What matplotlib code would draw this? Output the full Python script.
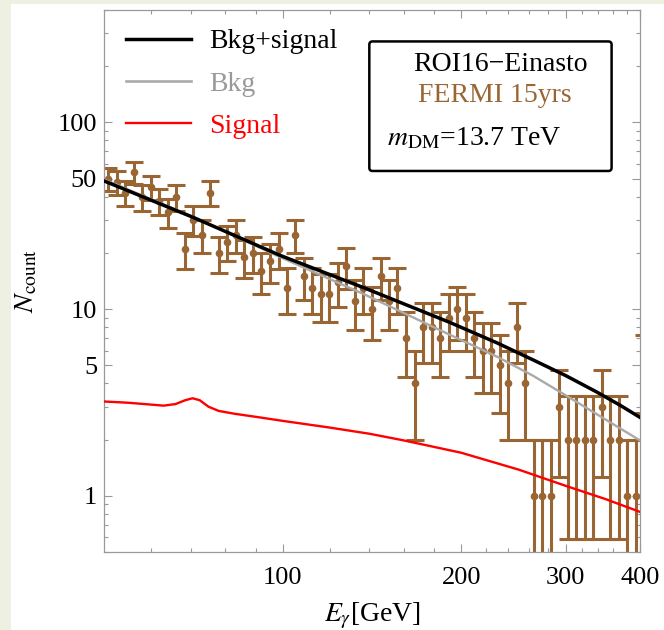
import numpy as np
import matplotlib
matplotlib.use("Agg")
import matplotlib.pyplot as plt
from matplotlib.patches import FancyBboxPatch, Rectangle
from matplotlib.lines import Line2D
from matplotlib.ticker import FixedLocator, NullFormatter, FixedFormatter

plt.rcParams['font.family'] = ['Liberation Serif', 'DejaVu Serif']
plt.rcParams['mathtext.fontset'] = 'stix'

# ---- data ----
energy = [50.8, 52.5, 54.3, 56.1, 58.0, 60.0, 62.0, 64.0, 66.2, 68.4,
          70.7, 73.1, 75.5, 78.1, 80.7, 83.4, 86.2, 89.1, 92.1, 95.2,
          98.4, 101.7, 105.1, 108.6, 112.2, 116.0, 119.9, 123.9, 128.1, 132.4,
          136.8, 141.4, 146.2, 151.1, 156.1, 161.4, 166.8, 172.4, 178.2, 184.1,
          190.3, 196.7, 203.3, 210.1, 217.2, 224.5, 232.0, 239.8, 247.8, 256.2,
          264.8, 273.6, 282.8, 292.3, 302.1, 312.3, 322.8, 333.6, 344.8, 356.4,
          368.3, 380.7, 393.5, 406.7]
counts = [50, 48, 42, 54, 40, 45, 38, 33, 40, 21,
          30, 25, 42, 20, 23, 25, 19, 20, 16, 18,
          21, 13, 25, 15, 13, 12, 12, 14, 17, 11,
          13, 10, 15, 11, 13, 7, 4, 8, 8, 7,
          9, 10, 9, 7, 6, 6, 5, 4, 8, 4,
          1, 1, 1, 3, 2, 2, 2, 2, 3, 2,
          2, 1, 1, 5]

curve_E = [50, 71, 99, 138, 191, 230, 264, 300, 338, 370, 400]
bkg_signal = [48.6, 30.8, 19.4, 12.9, 8.5, 6.58, 5.35, 4.40, 3.6, 3.06, 2.63]
bkg = [49.5, 31.0, 19.0, 11.9, 7.3, 5.55, 4.4, 3.45, 2.74, 2.3, 1.98]

signal_E = [50, 55, 60, 63, 66, 68.5, 70.5, 72.5, 75, 78, 83, 90, 100,
            120, 140, 160, 200, 250, 300, 350, 400]
signal = [3.2, 3.15, 3.08, 3.04, 3.1, 3.25, 3.33, 3.25, 3.0, 2.85, 2.75,
          2.65, 2.52, 2.32, 2.15, 1.98, 1.70, 1.38, 1.13, 0.96, 0.82]

x_major = [100, 200, 300, 400]
x_minor = [60, 70, 80, 90, 120, 140, 160, 180, 220, 240, 260, 280,
           320, 340, 360, 380]
y_major = [1, 5, 10, 50, 100]
y_minor = [0.5, 0.6, 0.7, 0.8, 0.9, 2, 3, 4, 6, 7, 8, 9, 20, 30, 40,
           60, 70, 80, 90, 200, 300, 400]

brown = '#996633'
gray = '#aaaaaa'

fig = plt.figure(figsize=(6.64, 6.30), dpi=100)
fig.patch.set_facecolor('white')
beige = '#eef1e1'
fig.patches.append(Rectangle((0, 0), 11 / 664, 1, transform=fig.transFigure,
                             facecolor=beige, edgecolor='none', zorder=-10))
fig.patches.append(Rectangle((0, 1 - 4 / 630), 1, 4 / 630, transform=fig.transFigure,
                             facecolor=beige, edgecolor='none', zorder=-10))

ax = fig.add_axes([104 / 664, 78 / 630, 536 / 664, 542 / 630])
ax.set_xscale('log')
ax.set_yscale('log')
ax.set_xlim(50, 400)
ax.set_ylim(0.5, 400)

c = np.array(counts, dtype=float)
err = np.sqrt(c)
lower = np.maximum(c - err, 1e-3)
ax.errorbar(energy, counts, yerr=[c - lower, err], fmt='o', color=brown,
            ms=4.5, elinewidth=2.2, capsize=6.4, capthick=2.2, zorder=2)

ax.plot(curve_E, bkg, color=gray, lw=1.7, zorder=3)
ax.plot(curve_E, bkg_signal, color='black', lw=2.5, zorder=4)
ax.plot(signal_E, signal, color='red', lw=1.7, zorder=4)

ax.xaxis.set_major_locator(FixedLocator(x_major))
ax.xaxis.set_major_formatter(FixedFormatter([str(v) for v in x_major]))
ax.xaxis.set_minor_locator(FixedLocator(x_minor))
ax.xaxis.set_minor_formatter(NullFormatter())
ax.yaxis.set_major_locator(FixedLocator(y_major))
ax.yaxis.set_major_formatter(FixedFormatter([str(v) for v in y_major]))
ax.yaxis.set_minor_locator(FixedLocator(y_minor))
ax.yaxis.set_minor_formatter(NullFormatter())

ax.tick_params(which='both', direction='in', top=True, right=True,
               color='#999999', width=0.8, labelsize=19)
ax.tick_params(which='major', length=6)
ax.tick_params(which='minor', length=3)
ax.tick_params(axis='x', pad=11)
ax.tick_params(axis='y', pad=5)
for s in ax.spines.values():
    s.set_color('#999999')
    s.set_linewidth(0.9)

ax.set_xlabel(r'$E_\gamma$[GeV]', fontsize=20, labelpad=8)
ax.set_ylabel(r'$N_{\rm count}$', fontsize=20, labelpad=13)

handles = [Line2D([], [], color='black', lw=2.5),
           Line2D([], [], color=gray, lw=1.9),
           Line2D([], [], color='red', lw=1.7)]
leg = ax.legend(handles, ['Bkg+signal', 'Bkg', 'Signal'], loc='upper left',
                bbox_to_anchor=(0.041, 0.965), frameon=False, fontsize=20,
                borderaxespad=0, borderpad=0,
                handlelength=2.35, handletextpad=0.66, labelspacing=0.6,
                labelcolor=['black', '#999999', 'red'])

box = FancyBboxPatch((0.495, 0.703), 0.452, 0.239, transform=ax.transAxes,
                     boxstyle='round,pad=0,rounding_size=0.006',
                     facecolor='white', edgecolor='black', lw=1.8, zorder=5)
ax.add_patch(box)
ax.text(0.739, 0.899, 'ROI16\u2212Einasto', transform=ax.transAxes,
        ha='center', va='center', fontsize=20, zorder=6)
ax.text(0.73, 0.843, 'FERMI 15yrs', transform=ax.transAxes, color=brown,
        ha='center', va='center', fontsize=20, zorder=6)
ax.text(0.528, 0.762, r'$m_{\rm DM}$=13.7 TeV', transform=ax.transAxes,
        ha='left', va='center', fontsize=20, zorder=6)

fig.savefig('out.png', dpi=100, facecolor=fig.get_facecolor())
